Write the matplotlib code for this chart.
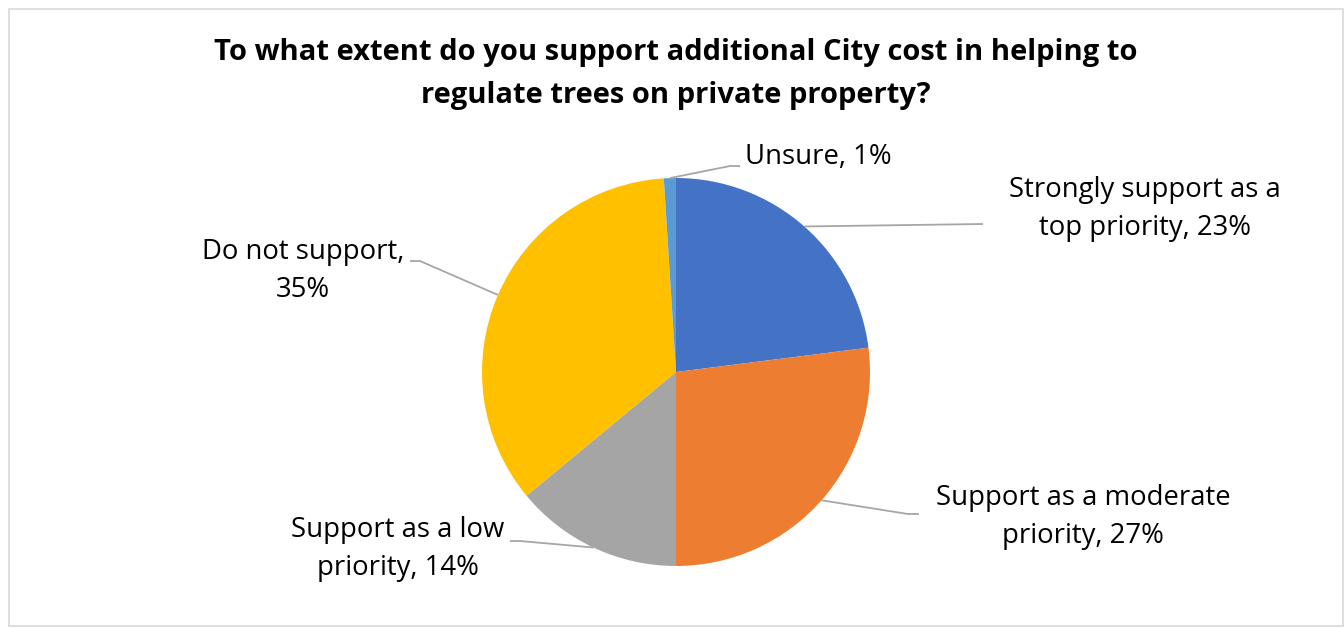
import matplotlib
matplotlib.use("Agg")
import matplotlib.pyplot as plt
from matplotlib.patches import Rectangle
import numpy as np

categories = ["Strongly support as a top priority", "Support as a moderate priority",
              "Support as a low priority", "Do not support", "Unsure"]
label_texts = ["Strongly support as a\ntop priority, 23%", "Support as a moderate\npriority, 27%",
               "Support as a low\npriority, 14%", "Do not support,\n35%", "Unsure, 1%"]
values = [23, 27, 14, 35, 1]
colors = ["#4472C4", "#ED7D31", "#A5A5A5", "#FFC000", "#5B9BD5"]
title = "To what extent do you support additional City cost in helping to\nregulate trees on private property?"

W, H = 1344, 627
plt.rcParams['font.family'] = ['Open Sans', 'DejaVu Sans']
fig = plt.figure(figsize=(W / 100, H / 100), dpi=100)
ax = fig.add_axes([0, 0, 1, 1])

def Y(y):
    return H - y

cx, cy, r = 676, Y(372), 194
wedges, _ = ax.pie(values, colors=colors, startangle=90, counterclock=False,
                   center=(cx, cy), radius=r, frame=True,
                   wedgeprops=dict(linewidth=0))
ax.set_xlim(0, W)
ax.set_ylim(0, H)
ax.set_aspect('equal')
ax.axis('off')

ax.add_patch(Rectangle((8.5, Y(626)), 1334, 617, fill=False, edgecolor="#D9D9D9", lw=1.2))

# layout: (elbow, end, text center, ha)
layout = [
    ((983, 224), (983, 224), (1145, 209), 'center'),
    ((908, 514), (919, 514), (1083, 517), 'center'),
    ((520, 541), (510, 541), (398, 549), 'center'),
    ((420, 261), (410, 261), (303, 271), 'center'),
    ((730, 166), (740, 166), (745, 157), 'left'),
]
lc = "#A6A6A6"
for w, txt, (elb, end, tpos, ha) in zip(wedges, label_texts, layout):
    ang = np.deg2rad((w.theta1 + w.theta2) / 2)
    px, py = cx + r * np.cos(ang), cy + r * np.sin(ang)
    ax.plot([px, elb[0], end[0]], [py, Y(elb[1]), Y(end[1])], color=lc, lw=1.3,
            solid_capstyle='butt', zorder=3)
    ax.text(tpos[0], Y(tpos[1]), txt, ha=ha, va='center', fontsize=19.8,
            color="#000000", linespacing=1.5, zorder=4)

ax.text(676, Y(74), title, ha='center', va='center', fontsize=21,
        fontweight='bold', color="#000000", linespacing=1.6)

fig.savefig("out.png", dpi=100)
